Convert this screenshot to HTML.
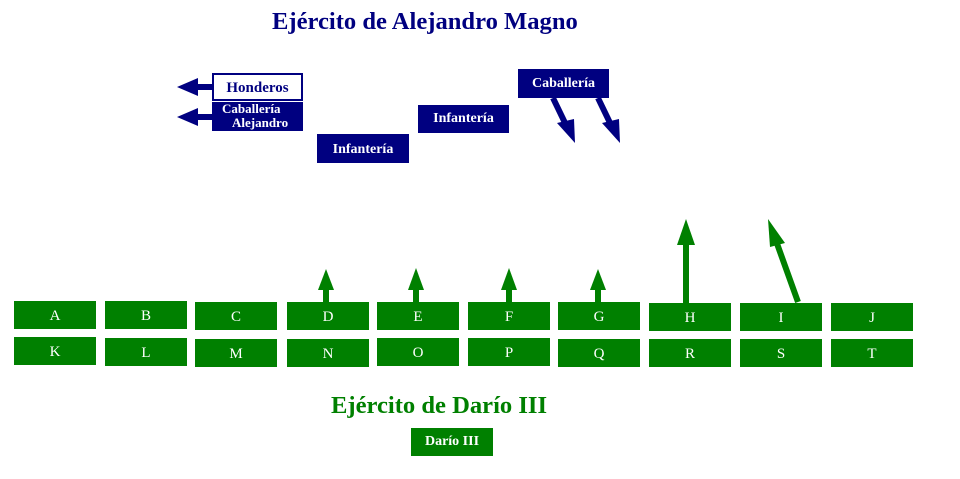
<!DOCTYPE html>
<html><head><meta charset="utf-8"><style>
body{margin:0;width:960px;height:479px;background:#fff;position:relative;overflow:hidden;font-family:"Liberation Serif",serif}
.g{position:absolute;width:82px;height:28px;background:#008000;color:#fff;font-size:15px;text-align:center;line-height:31px}
.b{position:absolute;background:#000080;color:#fff;font-weight:bold;font-size:14px;text-align:center}
.t{position:absolute;font-weight:bold;font-size:24.6px;white-space:nowrap}
</style></head><body>
<div class="t" style="left:272px;top:8px;color:#000080">Ejército de Alejandro Magno</div>
<div class="t" style="left:331px;top:392px;color:#008000">Ejército de Darío III</div>
<div class="b" style="left:411px;top:428px;width:82px;height:28px;line-height:28px;background:#008000">Darío III</div>

<div class="b" style="left:212px;top:73px;width:87px;height:24px;line-height:26px;background:#fff;color:#000080;border:2px solid #000080;font-size:15px">Honderos</div>
<div class="b" style="left:212px;top:102px;width:91px;height:29px;line-height:14px;font-size:13px;text-align:left"><span style="padding-left:10px">Caballería</span><br><span style="padding-left:20px">Alejandro</span></div>
<div class="b" style="left:317px;top:134px;width:92px;height:29px;line-height:32px">Infantería</div>
<div class="b" style="left:418px;top:105px;width:91px;height:28px;line-height:28px">Infantería</div>
<div class="b" style="left:518px;top:69px;width:91px;height:29px;line-height:30px">Caballería</div>

<div class="g" style="left:14px;top:301px">A</div><div class="g" style="left:105px;top:301px">B</div><div class="g" style="left:195px;top:302px">C</div><div class="g" style="left:287px;top:302px">D</div><div class="g" style="left:377px;top:302px">E</div><div class="g" style="left:468px;top:302px">F</div><div class="g" style="left:558px;top:302px">G</div><div class="g" style="left:649px;top:303px">H</div><div class="g" style="left:740px;top:303px">I</div><div class="g" style="left:831px;top:303px">J</div>
<div class="g" style="left:14px;top:337px">K</div><div class="g" style="left:105px;top:338px">L</div><div class="g" style="left:195px;top:339px">M</div><div class="g" style="left:287px;top:339px">N</div><div class="g" style="left:377px;top:338px">O</div><div class="g" style="left:468px;top:338px">P</div><div class="g" style="left:558px;top:339px">Q</div><div class="g" style="left:649px;top:339px">R</div><div class="g" style="left:740px;top:339px">S</div><div class="g" style="left:831px;top:339px">T</div>

<svg width="960" height="479" style="position:absolute;left:0;top:0">
<g fill="#008000" stroke="none">
<rect x="323" y="285" width="6" height="17"/><polygon points="326,269 334,290 318,290"/>
<rect x="413" y="285" width="6" height="17"/><polygon points="416,268 424,290 408,290"/>
<rect x="506" y="285" width="6" height="17"/><polygon points="509,268 517,290 501,290"/>
<rect x="595" y="285" width="6" height="17"/><polygon points="598,269 606,290 590,290"/>
<rect x="683" y="240" width="6" height="63"/><polygon points="686,219 695,245 677,245"/>
<line x1="798" y1="302" x2="775" y2="238" stroke="#008000" stroke-width="6"/><polygon points="768,219 785,243 770,247"/>
</g>
<g fill="#000080">
<rect x="195" y="84" width="18" height="6"/><polygon points="177,87 198,78 198,96"/>
<rect x="195" y="114" width="18" height="6"/><polygon points="177,117 198,108 198,126"/>
<line x1="553" y1="98" x2="567" y2="127" stroke="#000080" stroke-width="6"/><polygon points="575,143 557,123 574,119"/>
<line x1="598" y1="98" x2="612" y2="127" stroke="#000080" stroke-width="6"/><polygon points="620,143 602,123 619,119"/>
</g>
</svg>
</body></html>
